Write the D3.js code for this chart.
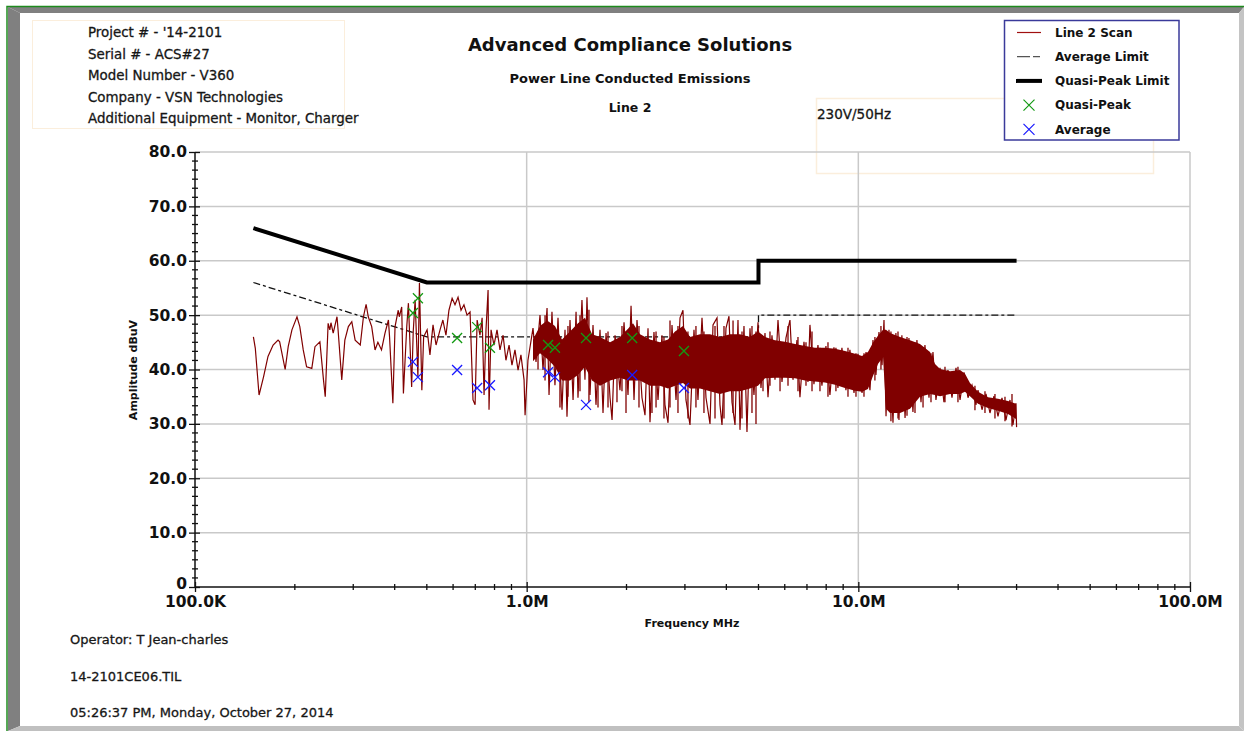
<!DOCTYPE html>
<html lang="en">
<head>
  <meta charset="UTF-8">
  <title>Power Line Conducted Emissions</title>
  <script src="https://cdn.jsdelivr.net/npm/d3@7"></script>
  <style>
    body { margin: 0; background: #fff; }
    text { font-family: "DejaVu Sans", Verdana, sans-serif; fill: #111; }
    .bold { font-weight: bold; }
    .reg { stroke: #222; stroke-width: 0.3px; }
  </style>
</head>
<body>
  <div id="chart"></div>

  <script>
    // ---- data (frequency in MHz, level in dBuV) ----
    const infoLines = ["Project # - '14-2101", "Serial # - ACS#27", "Model Number - V360",
      "Company - VSN Technologies", "Additional Equipment - Monitor, Charger"];
    const footerLines = ["Operator: T Jean-charles", "14-2101CE06.TIL",
      "05:26:37 PM, Monday, October 27, 2014"];

    const yTicks = [0, 10, 20, 30, 40, 50, 60, 70, 80];
    const xTickValues = [0.1, 1, 10, 100];
    const xTickLabels = ["100.0K", "1.0M", "10.0M", "100.0M"];

    const qpLimitFreq = [0.15, 0.5, 5, 5, 30];
    const qpLimitLevel = [66, 56, 56, 60, 60];
    const avLimitFreq = [0.15, 0.5, 5, 5, 30];
    const avLimitLevel = [56, 46, 46, 50, 50];

    const qpFreq = [0.454, 0.470, 0.617, 0.709, 0.775, 1.16, 1.217, 1.51, 2.08, 2.98];
    const qpLevel = [50.4, 53.1, 45.8, 47.8, 44.0, 44.5, 44.0, 45.8, 45.8, 43.4];
    const avFreq = [0.454, 0.470, 0.617, 0.709, 0.775, 1.16, 1.217, 1.51, 2.08, 2.98];
    const avLevel = [41.4, 38.6, 39.9, 36.6, 37.1, 39.5, 38.6, 33.5, 39.0, 36.6];

    const scanFreq = [
      0.150, 0.152, 0.156, 0.161, 0.166, 0.172, 0.178, 0.180, 0.187, 0.191,
      0.196, 0.203, 0.207, 0.212, 0.217, 0.225, 0.230, 0.238, 0.244, 0.247,
      0.252, 0.255, 0.257, 0.261, 0.268, 0.270, 0.277, 0.283, 0.290, 0.297,
      0.304, 0.315, 0.322, 0.328, 0.333, 0.341, 0.349, 0.356, 0.365, 0.374,
      0.383, 0.386, 0.395, 0.401, 0.410, 0.413, 0.420, 0.425, 0.435, 0.440,
      0.450, 0.455, 0.461, 0.470, 0.475, 0.483, 0.489, 0.501, 0.511, 0.522,
      0.533, 0.548, 0.559, 0.571, 0.583, 0.596, 0.608, 0.621, 0.634, 0.647,
      0.661, 0.675, 0.689, 0.699, 0.709, 0.723, 0.734, 0.744, 0.754, 0.765,
      0.770, 0.781, 0.797, 0.814, 0.831, 0.849, 0.866, 0.885, 0.903, 0.922,
      0.942, 0.961, 0.982, 0.989, 1.009,
      1.045, 1.067, 1.097, 1.120, 1.152, 1.168, 1.192, 1.217, 1.243, 1.278,
      1.305, 1.323, 1.351, 1.380, 1.409, 1.428, 1.468, 1.499, 1.520, 1.552,
      1.585, 1.618, 1.664, 1.699, 1.735, 1.784, 1.809, 1.847, 1.911, 1.966,
      2.021, 2.064, 2.107, 2.151, 2.227, 2.274, 2.322, 2.354, 2.420, 2.489,
      2.558, 2.612, 2.668, 2.743, 2.820, 2.900, 2.960, 3.022, 3.108, 3.195,
      3.285, 3.378, 3.473, 3.571, 3.646, 3.749, 3.827, 3.881, 3.990, 4.074,
      4.160, 4.248, 4.337, 4.397, 4.521, 4.616, 4.713, 4.845, 4.983, 5.087,
      5.231, 5.341, 5.491, 5.607, 5.725, 5.886, 6.051, 6.221, 6.352, 6.531,
      6.668, 6.856, 7.049, 7.147, 7.348, 7.555, 7.767, 7.986, 8.211, 8.442,
      8.679, 8.924, 9.175, 9.433, 9.703, 9.976, 10.26, 10.55, 10.84, 11.07,
      11.30, 11.54, 11.79, 11.95, 12.12, 12.37, 12.72, 12.98, 13.26, 13.53,
      13.83, 14.21, 14.61, 15.02, 15.45, 15.88, 16.33, 16.79, 17.14, 17.63,
      18.12, 18.63, 19.16, 19.70, 20.26, 20.83, 21.41, 22.02, 22.63, 22.95,
      23.60, 24.26, 24.94, 25.64, 26.37, 27.11, 27.87, 28.66, 29.26, 29.88, 30.0];
    const scanLevel = [
      46.0, 43.9, 35.3, 38.7, 42.4, 44.5, 45.4, 45.1, 40.0, 44.2,
      47.3, 49.7, 47.9, 43.6, 40.5, 40.2, 44.2, 45.1, 38.1, 35.0,
      48.5, 47.3, 48.6, 46.7, 49.7, 47.3, 38.1, 45.4, 47.9, 48.8,
      45.4, 44.5, 49.7, 52.0, 49.7, 47.9, 43.6, 45.0, 43.6, 46.7,
      49.1, 46.0, 33.8, 47.9, 50.9, 49.7, 51.5, 35.6, 47.9, 52.2,
      36.8, 47.0, 52.8, 38.6, 55.9, 36.2, 46.0, 47.3, 42.7, 48.2,
      44.5, 47.3, 49.1, 46.3, 50.9, 53.1, 51.9, 53.3, 50.9, 51.9,
      50.0, 50.6, 34.4, 33.5, 49.1, 46.3, 49.5, 35.3, 47.3, 54.6,
      32.6, 47.3, 44.5, 47.3, 43.6, 46.3, 41.7, 44.5, 40.8, 43.6,
      39.9, 42.7, 38.1, 31.6, 41.7,
      47.6, 41.4, 50.0, 39.9, 51.3, 35.3, 50.6, 37.1, 49.5, 32.6,
      47.3, 31.3, 49.1, 34.4, 50.6, 34.8, 52.8, 38.1, 53.3, 35.3,
      48.2, 33.5, 47.3, 32.0, 46.7, 34.8, 30.7, 46.3, 36.2, 48.7,
      35.3, 51.7, 34.4, 49.1, 34.8, 31.6, 47.6, 30.3, 46.9, 34.4,
      46.3, 33.5, 30.2, 48.2, 34.4, 49.5, 50.9, 34.4, 29.8, 47.3,
      34.4, 49.5, 34.8, 30.0, 48.2, 49.5, 33.5, 29.8, 47.6, 49.8,
      34.0, 29.8, 49.1, 28.9, 48.0, 28.5, 47.6, 35.3, 48.7, 36.6,
      46.7, 34.9, 46.3, 38.1, 49.1, 37.7, 45.8, 49.1, 38.1, 45.4,
      34.9, 45.1, 37.7, 48.2, 37.3, 44.5, 37.0, 44.3, 35.3, 44.1,
      36.6, 44.0, 36.2, 43.6, 35.7, 42.9, 35.7, 43.2, 36.2, 45.4,
      39.0, 46.9, 40.8, 49.1, 31.4, 47.3, 30.2, 46.7, 30.7, 46.3,
      31.1, 45.8, 32.2, 45.4, 34.0, 44.5, 34.8, 43.2, 34.4, 40.3,
      34.0, 39.9, 34.8, 40.3, 34.4, 39.5, 34.8, 37.1, 33.5, 36.2,
      32.6, 35.5, 32.0, 35.1, 31.4, 34.8, 30.7, 34.4, 29.8, 33.8, 29.4];

    // dense part of the scan above 1 MHz: upper / lower edge of the solid trace
    const bandFreq = [1.045, 1.097, 1.152, 1.217, 1.278, 1.351, 1.428, 1.499, 1.574, 1.664,
      1.784, 1.911, 2.021, 2.092, 2.196, 2.354, 2.523, 2.668, 2.801, 2.960,
      3.108, 3.331, 3.571, 3.827, 4.102, 4.397, 4.713, 4.983, 5.231, 5.607,
      6.009, 6.442, 6.906, 7.40, 7.934, 8.504, 9.117, 9.77, 10.26, 10.69,
      11.07, 11.46, 11.87, 12.12, 12.46, 13.36, 14.32, 15.34, 16.45, 17.03,
      17.63, 18.90, 20.26, 20.97, 21.71, 22.95, 24.60, 26.37, 28.27, 29.88];
    const bandHigh = [45.5, 48.0, 49.0, 48.0, 45.5, 47.0, 48.5, 49.5, 46.5, 46.0,
      45.0, 46.0, 47.5, 48.5, 46.5, 45.5, 45.0, 45.5, 47.0, 48.0,
      46.0, 46.5, 46.5, 46.0, 46.5, 46.5, 46.0, 47.0, 46.0, 45.4,
      45.1, 44.7, 44.3, 44.0, 44.0, 43.8, 43.4, 42.9, 42.5, 43.2,
      44.9, 46.2, 47.3, 47.3, 46.7, 46.0, 45.4, 44.7, 43.2, 41.0,
      40.1, 39.7, 39.9, 39.2, 37.5, 35.9, 34.9, 34.6, 34.2, 33.7];
    const bandLow = [41.5, 43.0, 42.0, 40.5, 38.0, 38.0, 39.0, 40.5, 38.0, 37.0,
      38.0, 38.5, 38.0, 38.0, 38.0, 37.0, 37.0, 36.5, 37.0, 37.5,
      36.5, 36.5, 36.0, 35.5, 36.0, 36.0, 36.5, 37.0, 38.4, 38.5,
      38.5, 38.4, 38.0, 37.8, 37.6, 37.2, 36.6, 36.1, 35.9, 36.4,
      38.8, 41.0, 42.3, 32.8, 32.0, 32.0, 32.8, 35.0, 35.5, 35.3,
      35.1, 35.5, 35.5, 35.9, 35.1, 33.7, 32.9, 32.4, 31.8, 30.9];

    // single sweep excursions inside the dense part (top / bottom of each streak)
    const streakFreq = [1.082, 1.136, 1.260, 1.332, 1.448, 1.541, 1.641, 1.759, 1.872, 1.938,
      1.993, 2.181, 2.387, 2.455, 2.594, 2.705, 2.859, 3.064, 3.239, 3.424,
      3.697, 3.935, 4.190, 4.459, 4.779, 4.914, 5.159, 5.415, 5.806, 6.137,
      6.577, 6.953, 7.250, 7.662, 8.100, 8.560, 9.307, 9.838, 10.40, 11.22,
      11.70, 12.54, 13.17, 14.02, 14.82, 15.67, 16.56, 18.25, 19.97, 22.47,
      24.09, 25.82, 27.68, 29.06];
    const streakTop = [47, 50, 46, 48, 50, 51, 46, 47, 45, 48,
      47, 48, 45, 47, 46, 49, 48, 47, 48, 47,
      48, 48, 49, 47, 48, 47, 46, 47, 45, 48,
      46, 45, 47, 44, 45, 44, 44, 43, 43, 46,
      48, 47, 47, 46, 45, 44, 43, 40.5, 40.5, 37,
      36, 35.5, 35, 35.5];
    const streakBottom = [40, 38, 33, 35, 36, 34, 33, 33, 34, 36,
      32, 33, 32, 33, 31, 33, 32, 31, 33, 32,
      31, 31, 32, 31, 32, 30, 36, 37, 36, 37,
      36, 37, 36, 36, 35, 36, 35, 35, 35, 38,
      40, 30.5, 31, 31.5, 32, 33, 34, 34, 34, 32.5,
      32, 31, 30.5, 29.5];

    // ---- page ----
    const width = 1244, height = 731;
    const svg = d3.select('#chart')
      .append('svg')
        .attr('width', width)
        .attr('height', height);

    // window frame (green edge + bevels)
    svg.append('polygon').attr('points', '8,7 1244,7 1239,13 20,13').attr('fill', '#808080');
    svg.append('polygon').attr('points', '8,7 20,13 20,726 8,731').attr('fill', '#808080');
    svg.append('polygon').attr('points', '8,731 20,726 1239,726 1244,731').attr('fill', '#c0c0c0');
    svg.append('polygon').attr('points', '1244,7 1239,13 1239,726 1244,731').attr('fill', '#c4c4c4');
    svg.append('path').attr('d', 'M7,731 V6.5 H1244').attr('fill', 'none')
      .attr('stroke', '#1e8a1e').attr('stroke-width', 1.5);

    const x = d3.scaleLog().domain([0.1, 100]).range([195, 1190]);
    const y = d3.scaleLinear().domain([0, 80]).range([587, 152]);

    // info box
    svg.append('rect').attr('x', 32.5).attr('y', 20.5).attr('width', 312).attr('height', 108)
      .attr('fill', 'none').attr('stroke', '#fbeedc');
    svg.append('g').selectAll('text')
      .data(infoLines)
      .join('text')
        .attr('class', 'reg')
        .attr('x', 88)
        .attr('y', (d, i) => 37 + i * 21.6)
        .style('font-size', '13.4px')
        .text(d => d);

    // titles
    const titles = [
      {t: 'Advanced Compliance Solutions', y: 51, s: 18},
      {t: 'Power Line Conducted Emissions', y: 82.5, s: 13},
      {t: 'Line 2', y: 112, s: 12.5}
    ];
    svg.append('g').selectAll('text')
      .data(titles)
      .join('text')
        .attr('class', 'bold')
        .attr('x', 630)
        .attr('y', d => d.y)
        .attr('text-anchor', 'middle')
        .style('font-size', d => d.s + 'px')
        .text(d => d.t);

    // 230V/50Hz note box
    svg.append('rect').attr('x', 816.5).attr('y', 98.5).attr('width', 337).attr('height', 75)
      .attr('fill', 'none').attr('stroke', '#fbeedc').attr('stroke-width', 1.5);
    svg.append('text').attr('class', 'reg').attr('x', 817).attr('y', 119)
      .style('font-size', '13.5px').text('230V/50Hz');

    // grid
    const grid = svg.append('g').attr('stroke', '#c9c9c9').attr('stroke-width', 1.5);
    grid.selectAll('.h')
      .data(yTicks.filter(d => d > 0))
      .join('line')
        .attr('x1', x(0.1)).attr('x2', x(100))
        .attr('y1', d => y(d)).attr('y2', d => y(d));
    grid.selectAll('.v')
      .data(xTickValues.filter(d => d > 0.1))
      .join('line')
        .attr('x1', d => x(d)).attr('x2', d => x(d))
        .attr('y1', y(0)).attr('y2', y(80));

    const pairs = (fs, ls) => fs.map((f, i) => [f, ls[i]]);
    const line = d3.line().x(d => x(d[0])).y(d => y(d[1]));

    // limits
    svg.append('path')
      .datum(pairs(avLimitFreq, avLimitLevel))
      .attr('d', line)
      .attr('fill', 'none')
      .attr('stroke', '#111')
      .attr('stroke-width', 1.3)
      .attr('stroke-dasharray', '7,3,3,3');

    // scan: solid band + streaks + trace
    const band = bandFreq.map((f, i) => [f, bandLow[i], bandHigh[i]]);
    svg.append('path')
      .datum(band)
      .attr('d', d3.area().x(d => x(d[0])).y0(d => y(d[1])).y1(d => y(d[2])))
      .attr('fill', '#800000');
    svg.append('g').selectAll('line')
      .data(streakFreq.map((f, i) => [f, streakTop[i], streakBottom[i]]))
      .join('line')
        .attr('x1', d => x(d[0])).attr('x2', d => x(d[0]))
        .attr('y1', d => y(d[1])).attr('y2', d => y(d[2]))
        .attr('stroke', '#800000')
        .attr('stroke-width', 1.3);
    svg.append('path')
      .datum(pairs(scanFreq, scanLevel))
      .attr('d', line)
      .attr('fill', 'none')
      .attr('stroke', '#800000')
      .attr('stroke-width', 1.2)
      .attr('stroke-linejoin', 'miter');

    svg.append('path')
      .datum(pairs(qpLimitFreq, qpLimitLevel))
      .attr('d', line)
      .attr('fill', 'none')
      .attr('stroke', '#000')
      .attr('stroke-width', 4);

    // measured points
    const cross = s => `M${-s},${-s}L${s},${s}M${-s},${s}L${s},${-s}`;
    svg.append('g').selectAll('path')
      .data(pairs(qpFreq, qpLevel))
      .join('path')
        .attr('transform', d => `translate(${x(d[0])},${y(d[1])})`)
        .attr('d', cross(5))
        .attr('stroke', '#139a13')
        .attr('stroke-width', 1.3);
    svg.append('g').selectAll('path')
      .data(pairs(avFreq, avLevel))
      .join('path')
        .attr('transform', d => `translate(${x(d[0])},${y(d[1])})`)
        .attr('d', cross(5))
        .attr('stroke', '#1a1aff')
        .attr('stroke-width', 1.3);

    // y axis
    const yAxis = svg.append('g')
      .attr('transform', `translate(${x(0.1)},0)`)
      .call(d3.axisLeft(y).tickValues(yTicks)
        .tickFormat(d => d === 0 ? '0' : d.toFixed(1))
        .tickSize(6).tickPadding(2));
    yAxis.select('.domain').remove();
    yAxis.selectAll('.tick line').attr('x2', -6).attr('x1', 5).attr('stroke', '#111').attr('stroke-width', 1.3);
    yAxis.selectAll('.tick text')
      .attr('class', 'bold').style('font-size', '15.5px')
      .style('font-family', '"DejaVu Sans", Verdana, sans-serif').attr('fill', '#111')
      .attr('dy', d => d === 0 ? '0.1em' : '0.32em');

    const yMinor = d3.range(0, 80, 10 / 6).filter((d, i) => i % 6 !== 0);
    svg.append('g').selectAll('line')
      .data(yMinor)
      .join('line')
        .attr('x1', x(0.1) - 3).attr('x2', x(0.1) + 3)
        .attr('y1', d => y(d)).attr('y2', d => y(d))
        .attr('stroke', '#111').attr('stroke-width', 1.3);
    svg.append('line')
      .attr('x1', x(0.1)).attr('x2', x(0.1)).attr('y1', y(0)).attr('y2', y(80))
      .attr('stroke', '#111').attr('stroke-width', 1.5);

    // x axis
    const xAxis = svg.append('g')
      .attr('transform', `translate(0,${y(0)})`)
      .call(d3.axisBottom(x).tickValues(xTickValues)
        .tickFormat((d, i) => xTickLabels[i])
        .tickSize(5).tickPadding(4));
    xAxis.select('.domain').remove();
    xAxis.selectAll('.tick line').attr('y1', -5).attr('stroke', '#111').attr('stroke-width', 1.3);
    xAxis.selectAll('.tick text')
      .attr('class', 'bold').style('font-size', '15.5px')
      .style('font-family', '"DejaVu Sans", Verdana, sans-serif').attr('fill', '#111');

    const xMinor = [0.1, 1, 10].flatMap(dec => [2, 3, 4, 5, 6, 7, 8, 9].map(k => k * dec));
    svg.append('g').selectAll('line')
      .data(xMinor)
      .join('line')
        .attr('x1', d => x(d)).attr('x2', d => x(d))
        .attr('y1', y(0) - 3).attr('y2', y(0) + 3)
        .attr('stroke', '#111').attr('stroke-width', 1.3);
    svg.append('line')
      .attr('x1', x(0.1)).attr('x2', x(100)).attr('y1', y(0)).attr('y2', y(0))
      .attr('stroke', '#111').attr('stroke-width', 1.5);

    // axis titles
    svg.append('text').attr('class', 'bold')
      .attr('x', 692).attr('y', 627).attr('text-anchor', 'middle')
      .style('font-size', '11px').text('Frequency MHz');
    svg.append('text').attr('class', 'bold')
      .attr('transform', 'translate(137,370) rotate(-90)').attr('text-anchor', 'middle')
      .style('font-size', '11px').text('Amplitude dBuV');

    // legend
    const legendItems = [
      {label: 'Line 2 Scan', kind: 'scan'},
      {label: 'Average Limit', kind: 'avlim'},
      {label: 'Quasi-Peak Limit', kind: 'qplim'},
      {label: 'Quasi-Peak', kind: 'qp'},
      {label: 'Average', kind: 'av'}
    ];
    svg.append('rect').attr('x', 1004.5).attr('y', 20.5).attr('width', 174.5).attr('height', 119.5)
      .attr('fill', '#fff').attr('stroke', '#3a3a9a').attr('stroke-width', 1.5);
    const lg = svg.append('g').selectAll('g')
      .data(legendItems)
      .join('g')
        .attr('transform', (d, i) => `translate(0,${32.5 + i * 24.2})`);
    lg.filter(d => d.kind === 'scan').append('line')
      .attr('x1', 1017).attr('x2', 1041).attr('stroke', '#a01010').attr('stroke-width', 1.2);
    lg.filter(d => d.kind === 'avlim').append('line')
      .attr('x1', 1017).attr('x2', 1041).attr('stroke', '#555').attr('stroke-width', 1.3)
      .attr('stroke-dasharray', '13,3,7,3');
    lg.filter(d => d.kind === 'qplim').append('line')
      .attr('x1', 1016).attr('x2', 1042).attr('stroke', '#000').attr('stroke-width', 4);
    lg.filter(d => d.kind === 'qp').append('path')
      .attr('transform', 'translate(1029,0)').attr('d', cross(5.5))
      .attr('stroke', '#139a13').attr('stroke-width', 1.2);
    lg.filter(d => d.kind === 'av').append('path')
      .attr('transform', 'translate(1029,0)').attr('d', cross(5.5))
      .attr('stroke', '#1a1aff').attr('stroke-width', 1.2);
    lg.append('text')
      .attr('class', 'bold')
      .attr('x', 1055).attr('y', 4.3)
      .style('font-size', '12px')
      .text(d => d.label);

    // footer
    svg.append('g').selectAll('text')
      .data(footerLines)
      .join('text')
        .attr('class', 'reg')
        .attr('x', 70)
        .attr('y', (d, i) => [644, 681, 716.5][i])
        .style('font-size', '13px')
        .text(d => d);
  </script>
</body>
</html>
